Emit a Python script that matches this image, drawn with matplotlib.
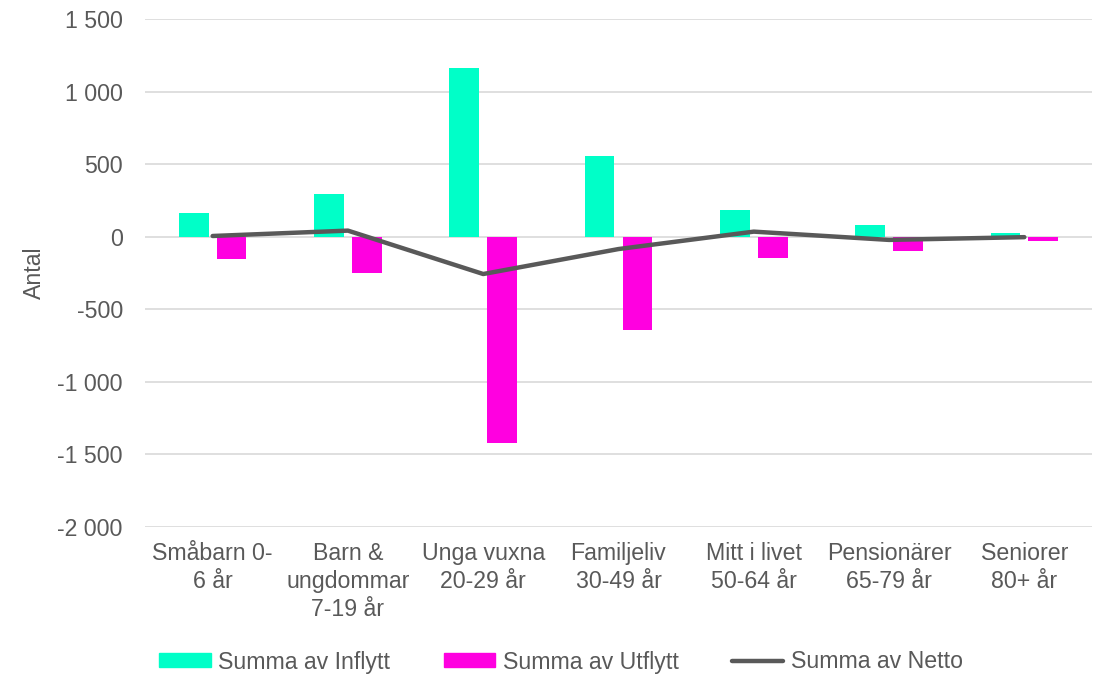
import matplotlib
matplotlib.use("Agg")
import matplotlib.pyplot as plt
import numpy as np
from matplotlib.patches import Patch
from matplotlib.lines import Line2D
from matplotlib.ticker import FuncFormatter

categories = ["Småbarn 0-\n6 år", "Barn &\nungdommar\n7-19 år", "Unga vuxna\n20-29 år",
              "Familjeliv\n30-49 år", "Mitt i livet\n50-64 år", "Pensionärer\n65-79 år",
              "Seniorer\n80+ år"]
inflytt = [161, 294, 1165, 555, 184, 78, 25]
utflytt = [-156, -252, -1422, -640, -149, -100, -28]
netto = [5, 42, -257, -85, 35, -22, -3]
yticks = [-2000, -1500, -1000, -500, 0, 500, 1000, 1500]

c_in = "#00FFC8"
c_out = "#FF00E0"
c_net = "#595959"
txt = "#595959"
fs = 16.7

plt.rcParams["font.family"] = ["Liberation Sans", "DejaVu Sans"]

fig = plt.figure(figsize=(11, 6.74), dpi=100)
ax = fig.add_axes([145/1100, 1-527/674, (1092-145)/1100, (527-19)/674])

x = np.arange(len(categories))
w = 0.22
off = 0.14
ax.bar(x - off, inflytt, width=w, color=c_in, zorder=2)
ax.bar(x + off, utflytt, width=w, color=c_out, zorder=2)
ax.plot(x, netto, color=c_net, lw=3.2, solid_capstyle="round", zorder=3)

ax.set_xlim(-0.5, len(categories) - 0.5)
ax.set_ylim(-2000, 1500)
ax.set_yticks(yticks)
ax.yaxis.set_major_formatter(FuncFormatter(lambda v, p: f"{int(v):,}".replace(",", " ")))
ax.grid(axis="y", color="#d9d9d9", lw=1.2, zorder=0)
ax.set_axisbelow(True)
for s in ax.spines.values():
    s.set_visible(False)
ax.set_xticks(x)
ax.set_xticklabels(categories, fontsize=fs, color=txt, linespacing=1.26)
ax.tick_params(axis="both", length=0, labelsize=fs, colors=txt)
ax.tick_params(axis="x", pad=11)
ax.tick_params(axis="y", pad=16)
ax.set_ylabel("Antal", fontsize=fs, color=txt, labelpad=8)

handles = [Patch(color=c_in), Patch(color=c_out),
           Line2D([0], [0], color=c_net, lw=3.2, solid_capstyle="round")]
labels = ["Summa av Inflytt", "Summa av Utflytt", "Summa av Netto"]
fig.legend(handles, labels, loc="center", bbox_to_anchor=(0.51, 1-662/674), ncol=3,
           frameon=False, fontsize=fs, labelcolor=txt, handlelength=2.22, handleheight=0.55,
           handletextpad=0.32, columnspacing=2.3)

fig.savefig("out.png", dpi=100)
